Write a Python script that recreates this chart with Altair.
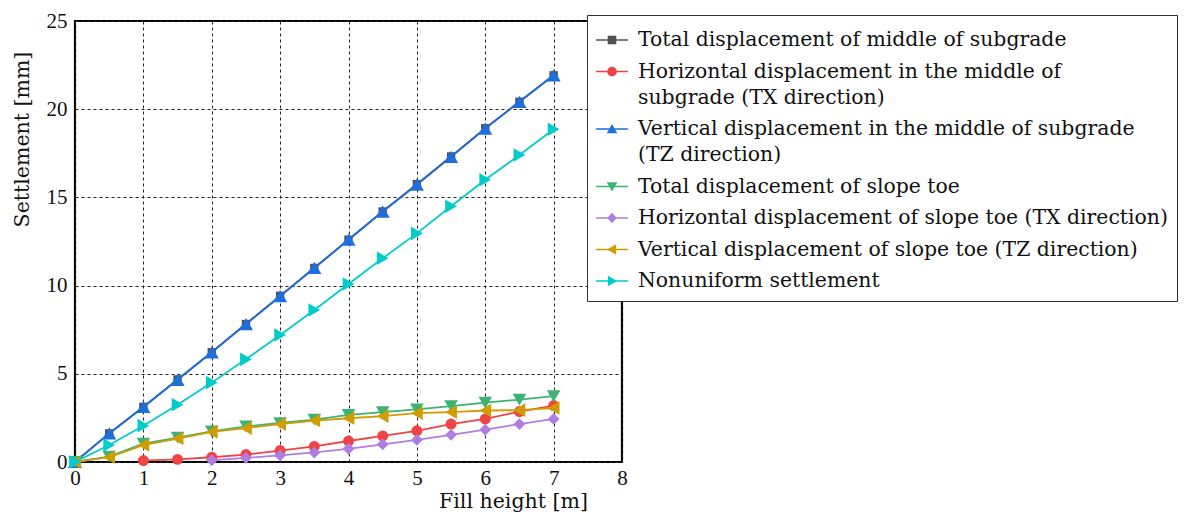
import altair as alt
import pandas as pd

# ---- data ----
fill_height = [0, 0.5, 1, 1.5, 2, 2.5, 3, 3.5, 4, 4.5, 5, 5.5, 6, 6.5, 7]

total_middle = [0, 1.62, 3.12, 4.68, 6.22, 7.82, 9.42, 11.0, 12.6, 14.2, 15.75, 17.32, 18.92, 20.42, 21.92]
vert_middle = [0, 1.62, 3.12, 4.66, 6.22, 7.82, 9.4, 11.0, 12.6, 14.2, 15.72, 17.3, 18.9, 20.42, 21.92]
hor_middle_x = [1, 1.5, 2, 2.5, 3, 3.5, 4, 4.5, 5, 5.5, 6, 6.5, 7]
hor_middle = [0.08, 0.15, 0.27, 0.42, 0.65, 0.88, 1.19, 1.48, 1.77, 2.15, 2.44, 2.86, 3.2]
total_toe = [0, 0.3, 1.04, 1.38, 1.73, 2.02, 2.21, 2.4, 2.67, 2.83, 2.98, 3.17, 3.37, 3.54, 3.73]
hor_toe_x = [2, 2.5, 3, 3.5, 4, 4.5, 5, 5.5, 6, 6.5, 7]
hor_toe = [0.1, 0.23, 0.38, 0.54, 0.75, 1.0, 1.25, 1.54, 1.83, 2.15, 2.44]
vert_toe = [0, 0.27, 0.96, 1.33, 1.71, 1.92, 2.15, 2.35, 2.48, 2.6, 2.77, 2.83, 2.92, 2.94, 3.06]
nonuniform = [0, 0.96, 2.06, 3.25, 4.5, 5.82, 7.2, 8.62, 10.09, 11.55, 12.96, 14.5, 16.0, 17.4, 18.86]

series_names = [
    "Total displacement of middle of subgrade",
    "Horizontal displacement in the middle of|subgrade (TX direction)",
    "Vertical displacement in the middle of subgrade|(TZ direction)",
    "Total displacement of slope toe",
    "Horizontal displacement of slope toe (TX direction)",
    "Vertical displacement of slope toe (TZ direction)",
    "Nonuniform settlement",
]
series_x = [fill_height, hor_middle_x, fill_height, fill_height, hor_toe_x, fill_height, fill_height]
series_y = [total_middle, hor_middle, vert_middle, total_toe, hor_toe, vert_toe, nonuniform]
colors = ["#505050", "#f04444", "#1e6fdc", "#3cb371", "#b07ee2", "#cf9c02", "#00cccc"]
shapes = ["square", "circle", "triangle-up", "triangle-down", "diamond", "triangle-left", "triangle-right"]
sizes = [70, 120, 200, 185, 140, 185, 185]

line_seg = "M-1,-0.05H1V0.05H-1Z"
legend_paths = [
    line_seg + "M-0.27,-0.27H0.27V0.27H-0.27Z",
    line_seg + "M0.3,0A0.3,0.3 0 1,1 -0.3,0A0.3,0.3 0 1,1 0.3,0Z",
    line_seg + "M0,-0.32L0.33,0.26L-0.33,0.26Z",
    line_seg + "M-0.33,-0.26L0.33,-0.26L0,0.32Z",
    line_seg + "M0,-0.33L0.3,0L0,0.33L-0.3,0Z",
    line_seg + "M-0.32,0L0.26,-0.33L0.26,0.33Z",
    line_seg + "M0.32,0L-0.26,0.33L-0.26,-0.33Z",
]

rows = []
for name, xs, ys in zip(series_names, series_x, series_y):
    for xv, yv in zip(xs, ys):
        rows.append({"series": name, "x": xv, "y": yv})
df = pd.DataFrame(rows)

FONT = "Liberation Serif"
TFONT = "DejaVu Serif"

xscale = alt.Scale(domain=[0, 8], nice=False, zero=False)
yscale = alt.Scale(domain=[0, 25], nice=False, zero=False)

xenc = alt.X("x:Q", scale=xscale,
             axis=alt.Axis(title="Fill height [m]", values=list(range(0, 9)), format="d",
                           grid=True, gridDash=[3, 3], gridColor="#222", gridWidth=1,
                           domain=False, ticks=False, labelPadding=5,
                           labelFont=FONT, labelFontSize=21, labelColor="#111",
                           titleFont=TFONT, titleFontSize=20.5, titleFontWeight="normal",
                           titleColor="#111", titleX=438, titleY=39, titleBaseline="middle",
                           labelFlush=False))
yenc = alt.Y("y:Q", scale=yscale,
             axis=alt.Axis(title="Settlement [mm]", values=[0, 5, 10, 15, 20, 25],
                           grid=True, gridDash=[3, 3], gridColor="#222", gridWidth=1,
                           domain=False, ticks=False, labelPadding=8,
                           labelFont=FONT, labelFontSize=21, labelColor="#111",
                           titleFont=TFONT, titleFontSize=20.5, titleFontWeight="normal",
                           titleColor="#111", titleX=-53, titleY=118, titleAngle=-90,
                           titleBaseline="middle", titleAlign="center", labelFlush=False))

layers = []
for name, col, shp, sz in zip(series_names, colors, shapes, sizes):
    base = alt.Chart(df).transform_filter(alt.datum.series == name)
    layers.append(base.mark_line(color=col, strokeWidth=1.8).encode(x=xenc, y=yenc))
    layers.append(base.mark_point(shape=shp, filled=True, size=sz, color=col, opacity=1)
                  .encode(x=xenc, y=yenc))

leg = alt.Legend(title=None, labelExpr="split(datum.label, '|')")
legend_layer = (
    alt.Chart(df)
    .transform_filter("false")
    .mark_point(filled=True, size=1024, opacity=1)
    .encode(
        x=alt.value(0), y=alt.value(0),
        color=alt.Color("series:N", scale=alt.Scale(domain=series_names, range=colors),
                        legend=leg),
        shape=alt.Shape("series:N", scale=alt.Scale(domain=series_names, range=legend_paths),
                        legend=leg),
    )
)

chart = alt.layer(*layers, legend_layer).properties(
    width=547, height=441,
    autosize="none",
    background="white",
    padding={"left": 75, "top": 21, "right": 567, "bottom": 57},
).configure(
    style={"guide-label": {"lineHeight": 26}}
).configure_view(
    stroke="#000", strokeWidth=2.2
).configure_legend(
    orient="none", legendX=512, legendY=-6,
    strokeColor="#333", fillColor="#fff", padding=9, cornerRadius=0,
    labelFont=TFONT, labelFontSize=20.4, labelColor="#111", labelOffset=10,
    labelLimit=0, symbolOpacity=1, symbolSize=1024,
    rowPadding=4.5, symbolStrokeWidth=0,
)

chart.save("out.html", embed_options={"renderer": "svg", "actions": False})
